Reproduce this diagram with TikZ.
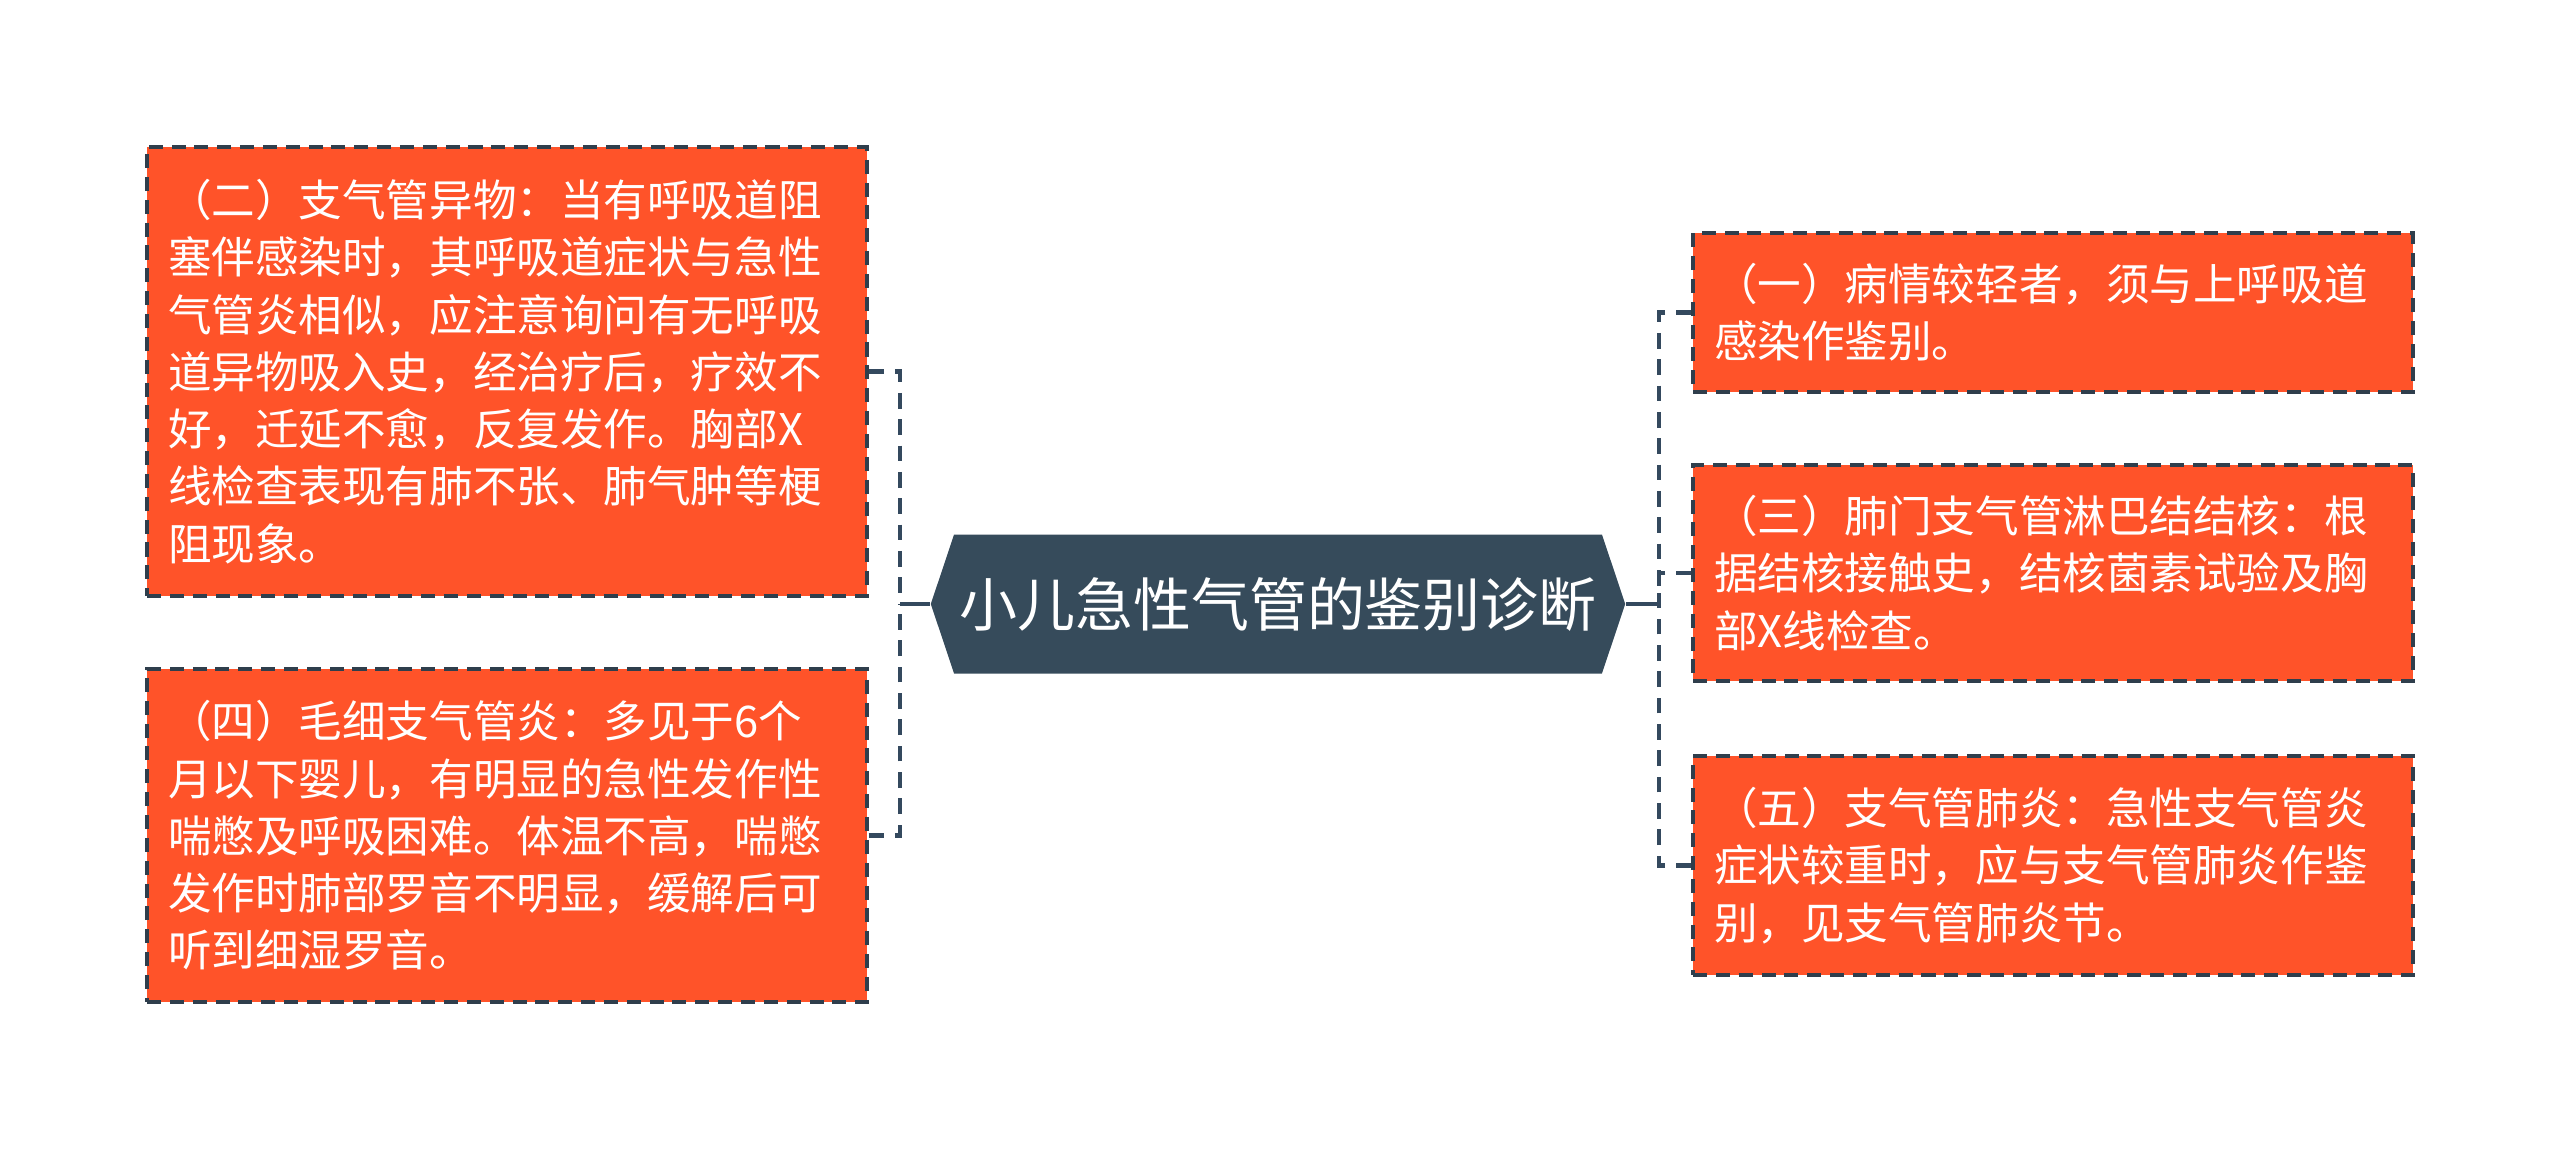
\documentclass[tikz,border=0pt]{standalone}
\usepackage{fontspec}
\newfontfamily\cjk{Noto Sans CJK SC}
\usetikzlibrary{shapes.symbols}
\definecolor{boxfill}{HTML}{FF5329}
\definecolor{boxline}{HTML}{2F3E4C}
\definecolor{rootfill}{HTML}{364B5B}
\definecolor{linkcol}{HTML}{34495E}
\begin{document}
\begin{tikzpicture}[
  leaf/.style={draw=boxline, fill=boxfill, rectangle, line width=0.9pt, dash pattern=on 4pt off 2.5pt,
    minimum width=7.2cm, text width=6.78cm, inner xsep=0.21cm, align=left, text=white,
    font=\cjk\fontsize{12.4pt}{16.3pt}\selectfont},
  root/.style={signal, signal to=west and east, signal pointer angle=143, fill=rootfill, draw=none,
    inner xsep=0.05cm, minimum width=6.94cm, minimum height=1.39cm, text=white,
    font=\cjk\fontsize{16.5pt}{20pt}\selectfont},
  stem/.style={draw=linkcol, line width=1.4pt},
  branch/.style={draw=linkcol, line width=1.4pt, dash pattern=on 4.5pt off 3pt}]
\useasboundingbox (0,0) rectangle (25.6,-11.49);
\node[root] (c) at (12.78,-6.04) {小儿急性气管的鉴别诊断};
\node[leaf, minimum height=4.49cm] (l1) at (5.07,-3.715) {（二）支气管异物：当有呼吸道阻\\塞伴感染时，其呼吸道症状与急性\\气管炎相似，应注意询问有无呼吸\\道异物吸入史，经治疗后，疗效不\\好，迁延不愈，反复发作。胸部X\\线检查表现有肺不张、肺气肿等梗\\阻现象。};
\node[leaf, minimum height=3.33cm] (l2) at (5.07,-8.355) {（四）毛细支气管炎：多见于6个\\月以下婴儿，有明显的急性发作性\\喘憋及呼吸困难。体温不高，喘憋\\发作时肺部罗音不明显，缓解后可\\听到细湿罗音。};
\node[leaf, minimum height=1.59cm] (r1) at (20.53,-3.125) {（一）病情较轻者，须与上呼吸道\\感染作鉴别。};
\node[leaf, minimum height=2.16cm] (r2) at (20.53,-5.73) {（三）肺门支气管淋巴结结核：根\\据结核接触史，结核菌素试验及胸\\部X线检查。};
\node[leaf, minimum height=2.19cm] (r3) at (20.53,-8.655) {（五）支气管肺炎：急性支气管炎\\症状较重时，应与支气管肺炎作鉴\\别，见支气管肺炎节。};
% spine points
\coordinate (ls) at (9.00,-6.04);
\coordinate (rs) at (16.59,-6.04);
\draw[stem] (c.west) -- (ls);
\draw[stem] (c.east) -- (rs);
\draw[branch] (l1.east) -| (ls);
\draw[branch] (l2.east) -| (ls);
\draw[branch] (r1.west) -| (rs);
\draw[branch] (r2.west) -| (rs);
\draw[branch] (r3.west) -| (rs);
\end{tikzpicture}
\end{document}
